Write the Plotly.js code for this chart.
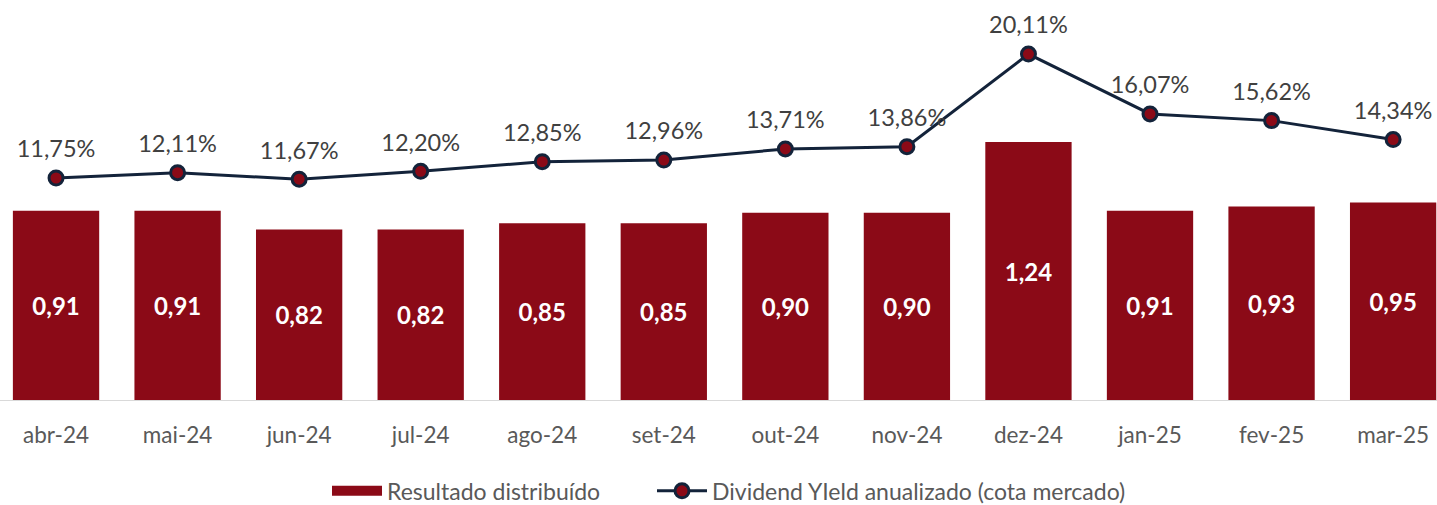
<!DOCTYPE html>
<html>
<head>
<meta charset="utf-8">
<script src="https://cdn.plot.ly/plotly-3.0.1.min.js"></script>
<style>html,body{margin:0;padding:0;background:#fff;}#chart{width:1437px;height:505px;}</style>
</head>
<body>
<div id="chart"></div>
<script>
const categories = ["abr-24","mai-24","jun-24","jul-24","ago-24","set-24","out-24","nov-24","dez-24","jan-25","fev-25","mar-25"];
const resultado = [0.91,0.91,0.82,0.82,0.85,0.85,0.90,0.90,1.24,0.91,0.93,0.95];
const dividendYield = [0.1175,0.1211,0.1167,0.1220,0.1285,0.1296,0.1371,0.1386,0.2011,0.1607,0.1562,0.1434];
const seriesNames = ["Resultado distribuído", "Dividend YIeld anualizado (cota mercado)"];

const font = "Lato, 'Open Sans', sans-serif";
const barColor = '#8B0A17';
const lineColor = '#13233A';
const traces = [
  {
    type: 'bar', name: seriesNames[0], x: categories, y: resultado, showlegend: false,
    marker: {color: barColor}, width: 0.71,
    texttemplate: '%{y:.2f}', textposition: 'inside', insidetextanchor: 'middle',
    textfont: {family: font, size: 24, color: '#ffffff', weight: 'bold'},
    hoverinfo: 'skip'
  },
  {
    // legend entry for the bars (wide rectangle swatch)
    type: 'scatter', mode: 'lines', name: seriesNames[0], x: [null], y: [null],
    line: {color: barColor, width: 10}, hoverinfo: 'skip', legend: 'legend'
  },
  {
    type: 'scatter', mode: 'lines+markers', name: seriesNames[1],
    x: categories, y: dividendYield, yaxis: 'y2',
    line: {color: lineColor, width: 3},
    marker: {color: barColor, size: 14, line: {color: lineColor, width: 3}},
    cliponaxis: false, hoverinfo: 'skip', legend: 'legend2'
  },
  {
    // value labels of the line
    type: 'scatter', mode: 'markers+text', name: seriesNames[1], showlegend: false,
    x: categories, y: dividendYield, yaxis: 'y2',
    marker: {color: 'rgba(0,0,0,0)', size: 22},
    texttemplate: '%{y:.2%}', textposition: 'top center',
    textfont: {family: font, size: 23.5, color: '#404040'},
    cliponaxis: false, hoverinfo: 'skip'
  }
];
const legendBase = {orientation: 'h', xref: 'container', yref: 'container', xanchor: 'left',
  y: 0.028, yanchor: 'middle', itemwidth: 50, bgcolor: 'rgba(0,0,0,0)',
  font: {family: font, size: 23, color: '#595959'}};
const layout = {
  width: 1437, height: 505,
  margin: {l: 0, r: 0, t: 10, b: 105},
  separators: ',.',
  paper_bgcolor: '#ffffff', plot_bgcolor: '#ffffff',
  font: {family: font, color: '#595959'},
  showlegend: true,
  legend: Object.assign({}, legendBase, {x: 327 / 1437}),
  legend2: Object.assign({}, legendBase, {x: 652 / 1437}),
  xaxis: {type: 'category', range: [-0.461, 11.361], showline: true, linecolor: '#d9d9d9', linewidth: 1,
          ticks: '', ticklabelstandoff: 15, tickfont: {family: font, size: 22.5, color: '#595959'},
          showgrid: false, zeroline: false, fixedrange: true, automargin: false},
  yaxis: {range: [0, 1.875], visible: false, showgrid: false, zeroline: false, fixedrange: true},
  yaxis2: {range: [-0.0322, 0.2308], overlaying: 'y', side: 'right', visible: false, showgrid: false, zeroline: false, fixedrange: true},
  bargap: 0.29
};
Plotly.newPlot('chart', traces, layout, {displayModeBar: false, staticPlot: true});
</script>
</body>
</html>
